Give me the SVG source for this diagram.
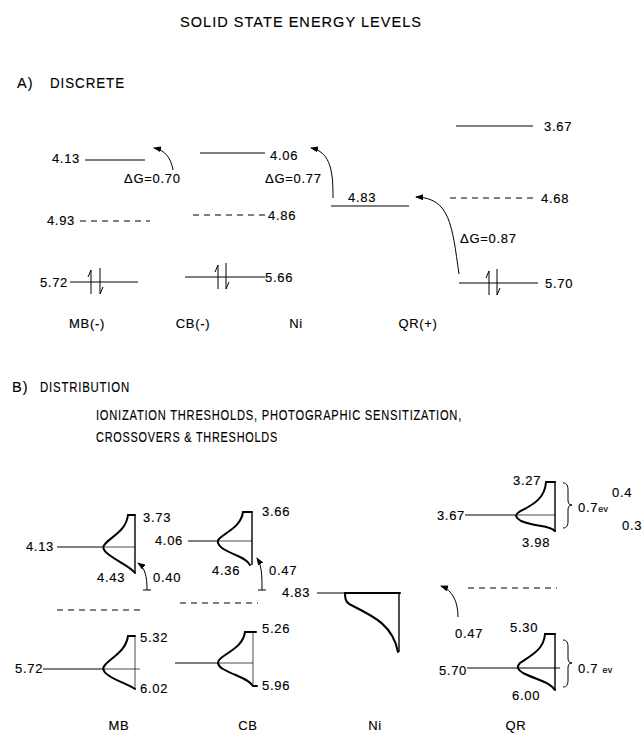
<svg xmlns="http://www.w3.org/2000/svg" width="644" height="734" viewBox="0 0 644 734">
<defs>
<marker id="ah" markerWidth="8" markerHeight="6" refX="7" refY="3" orient="auto" markerUnits="userSpaceOnUse">
<path d="M0,0 L8,3 L0,6 Z" fill="#000"/>
</marker>
<style>
text{font-family:"Liberation Sans",Arial,sans-serif;font-size:13px;fill:#000;stroke:#000;stroke-width:0.15px;letter-spacing:0.7px}
.h{font-size:14.5px;letter-spacing:1px}
.ln{stroke:#000;stroke-width:1;fill:none}
.ds{stroke:#000;stroke-width:1;fill:none;stroke-dasharray:6 5}
.cv{stroke:#000;stroke-width:2;fill:none;stroke-linecap:round}
.vt{stroke:#000;stroke-width:1.4;fill:none}
.th{stroke:#000;stroke-width:0.7;fill:none}
.ar{stroke:#000;stroke-width:1;fill:none;marker-end:url(#ah)}
.sm{font-size:9px;letter-spacing:0.3px}
</style>
</defs>
<rect width="644" height="734" fill="#fff"/>

<g id="titles">
<text class="h" x="180" y="27" textLength="242" lengthAdjust="spacing">SOLID STATE ENERGY LEVELS</text>
<text class="h" x="17" y="88">A)</text>
<text class="h" x="50" y="88" textLength="75" lengthAdjust="spacingAndGlyphs">DISCRETE</text>
<text class="h" x="12" y="392">B)</text>
<text class="h" x="40" y="392" textLength="90" lengthAdjust="spacingAndGlyphs">DISTRIBUTION</text>
<text class="h" x="96" y="420" textLength="366" lengthAdjust="spacingAndGlyphs">IONIZATION THRESHOLDS, PHOTOGRAPHIC SENSITIZATION,</text>
<text class="h" x="96" y="442" textLength="182" lengthAdjust="spacingAndGlyphs">CROSSOVERS &amp; THRESHOLDS</text>
</g>

<!-- Part A -->
<g id="A-MB">
<text x="80" y="163" text-anchor="end">4.13</text>
<line class="ln" x1="85" y1="160" x2="145" y2="160"/>
<text x="124" y="183">ΔG=0.70</text>
<text x="75" y="225" text-anchor="end">4.93</text>
<line class="ds" x1="80" y1="221" x2="150" y2="221"/>
<text x="68" y="287" text-anchor="end">5.72</text>
<line class="ln" x1="70" y1="282" x2="138" y2="282"/>
<path class="ln" d="M91,294 L91,270 L88,277"/>
<path class="ln" d="M100,268 L100,294 L103,287"/>
<text x="87" y="328" text-anchor="middle">MB(-)</text>
</g>

<g id="A-CB">
<line class="ln" x1="200" y1="153" x2="265" y2="153"/>
<text x="270" y="160">4.06</text>
<text x="265" y="183">ΔG=0.77</text>
<line class="ds" x1="193" y1="215" x2="265" y2="215"/>
<text x="268" y="220">4.86</text>
<line class="ln" x1="185" y1="277" x2="265" y2="277"/>
<path class="ln" d="M218,289 L218,265 L215,272"/>
<path class="ln" d="M226,263 L226,289 L229,282"/>
<text x="265" y="282">5.66</text>
<text x="193" y="328" text-anchor="middle">CB(-)</text>
</g>

<g id="A-Ni">
<text x="348" y="202">4.83</text>
<line class="ln" x1="331" y1="206" x2="409" y2="206"/>
<text x="296" y="328" text-anchor="middle">Ni</text>
</g>

<g id="A-QR">
<line class="ln" x1="456" y1="126" x2="533" y2="126"/>
<text x="544" y="131">3.67</text>
<line class="ds" x1="450" y1="198" x2="537" y2="198"/>
<text x="541" y="203">4.68</text>
<text x="460" y="243">ΔG=0.87</text>
<line class="ln" x1="459" y1="283" x2="538" y2="283"/>
<path class="ln" d="M489,295 L489,271 L486,278"/>
<path class="ln" d="M497,269 L497,295 L500,288"/>
<text x="545" y="288">5.70</text>
<text x="418" y="328" text-anchor="middle">QR(+)</text>
</g>

<!-- Part B -->
<g id="B-MB">
<text x="54" y="551" text-anchor="end">4.13</text>
<line class="ln" x1="57" y1="547" x2="103" y2="547"/>
<path class="cv" d="M128,515 L135,515"/>
<path class="cv" d="M128,515 C126,531 112,536 105,544 C102,547 103,550 108,554 C118,562 130,566 135,573"/>
<line class="vt" x1="135" y1="515" x2="135" y2="573"/>
<line class="th" x1="103" y1="547" x2="135" y2="547"/>
<text x="143" y="522">3.73</text>
<text x="97" y="582">4.43</text>
<text x="153" y="582">0.40</text>
<line class="ds" x1="57" y1="610" x2="145" y2="610"/>
<line class="ln" x1="43" y1="669" x2="103" y2="669"/>
<text x="15" y="673">5.72</text>
<path class="cv" d="M128,636 L135,636"/>
<path class="cv" d="M128,636 C126,651 112,657 105,665 C102,668 103,672 108,675 C118,682 128,684 135,689"/>
<line class="th" x1="135" y1="636" x2="135" y2="689"/>
<line class="th" x1="103" y1="669" x2="140" y2="669"/>
<text x="140" y="642">5.32</text>
<text x="140" y="693">6.02</text>
<text x="119" y="730" text-anchor="middle">MB</text>
</g>

<g id="B-CB">
<text x="183" y="545" text-anchor="end">4.06</text>
<line class="ln" x1="188" y1="541" x2="218" y2="541"/>
<path class="cv" d="M243,512 L252,512"/>
<path class="cv" d="M243,512 C241,526 228,531 220,538 C216,541 218,545 222,548 C232,555 246,557 250,565"/>
<line class="vt" x1="252" y1="512" x2="252" y2="565"/>
<line class="th" x1="218" y1="541" x2="252" y2="541"/>
<text x="262" y="516">3.66</text>
<text x="212" y="575">4.36</text>
<text x="269" y="575">0.47</text>
<line class="ds" x1="180" y1="603" x2="258" y2="603"/>
<line class="ln" x1="175" y1="663" x2="218" y2="663"/>
<path class="cv" d="M245,632 L256,632"/>
<path class="cv" d="M245,632 C243,646 230,651 221,658 C216,662 218,666 223,669 C235,676 248,678 253,686 L257,686"/>
<line class="th" x1="253" y1="632" x2="253" y2="686"/>
<line class="th" x1="217" y1="663" x2="253" y2="663"/>
<text x="262" y="633">5.26</text>
<text x="262" y="690">5.96</text>
<text x="248" y="730" text-anchor="middle">CB</text>
</g>

<g id="B-Ni">
<text x="282" y="597">4.83</text>
<line class="ln" x1="317" y1="593" x2="345" y2="593"/>
<line class="cv" x1="345" y1="593" x2="400" y2="593"/>
<line class="vt" x1="399" y1="593" x2="399" y2="652"/>
<path class="cv" d="M345,593 C345,600 346,603 353,606 C375,617 393,626 398,652"/>
<text x="375" y="730" text-anchor="middle">Ni</text>
</g>

<g id="B-QR">
<text x="465" y="520" text-anchor="end">3.67</text>
<line class="ln" x1="465" y1="515" x2="515" y2="515"/>
<path class="cv" d="M546,482 L555,482"/>
<path class="cv" d="M546,482 C545,500 530,506 519,512 C514,515 516,518 521,521 C535,527 550,525 555,531"/>
<line class="vt" x1="555" y1="482" x2="555" y2="532"/>
<line class="th" x1="515" y1="515" x2="555" y2="515"/>
<text x="513" y="485">3.27</text>
<text x="522" y="547">3.98</text>
<path class="ln" d="M563,483 C567,483 568,486 568,490 L568,500 C568,503 569,505 572,505 C569,505 568,507 568,510 L568,521 C568,525 567,528 563,528"/>
<text x="578" y="512">0.7<tspan class="sm">ev</tspan></text>
<text x="612" y="497">0.4</text>
<text x="622" y="530">0.3</text>
<line class="ds" x1="468" y1="588" x2="557" y2="588"/>
<text x="455" y="638">0.47</text>
<text x="510" y="632">5.30</text>
<text x="467" y="675" text-anchor="end">5.70</text>
<line class="ln" x1="467" y1="668" x2="517" y2="668"/>
<path class="cv" d="M545,634 L555,634"/>
<path class="cv" d="M545,634 C544,650 530,656 520,663 C516,667 518,670 523,673 C537,680 550,682 555,690"/>
<line class="vt" x1="555" y1="634" x2="555" y2="690"/>
<line class="ln" x1="517" y1="668" x2="560" y2="668"/>
<text x="512" y="700">6.00</text>
<path class="ln" d="M563,640 C567,640 568,643 568,647 L568,658 C568,661 569,663 572,663 C569,663 568,665 568,668 L568,680 C568,684 567,687 563,687"/>
<text x="578" y="673">0.7 <tspan class="sm">ev</tspan></text>
<text x="516" y="730" text-anchor="middle">QR</text>
</g>

<g id="connectors">
<path class="ar" d="M173,170 C171,158 165,150 154,148"/>
<path class="ar" d="M333,198 C333,175 332,152 311,148"/>
<path class="ar" d="M459,274 C452,225 450,198 416,197"/>
<path class="ar" d="M147,590 C147,576 145,568 138,563"/>
<line class="ln" x1="143" y1="590" x2="151" y2="590"/>
<path class="ar" d="M262,590 C262,576 262,566 257,558"/>
<line class="ln" x1="258" y1="590" x2="266" y2="590"/>
<path class="ar" d="M458,617 C458,601 452,590 441,586"/>
</g>
</svg>
